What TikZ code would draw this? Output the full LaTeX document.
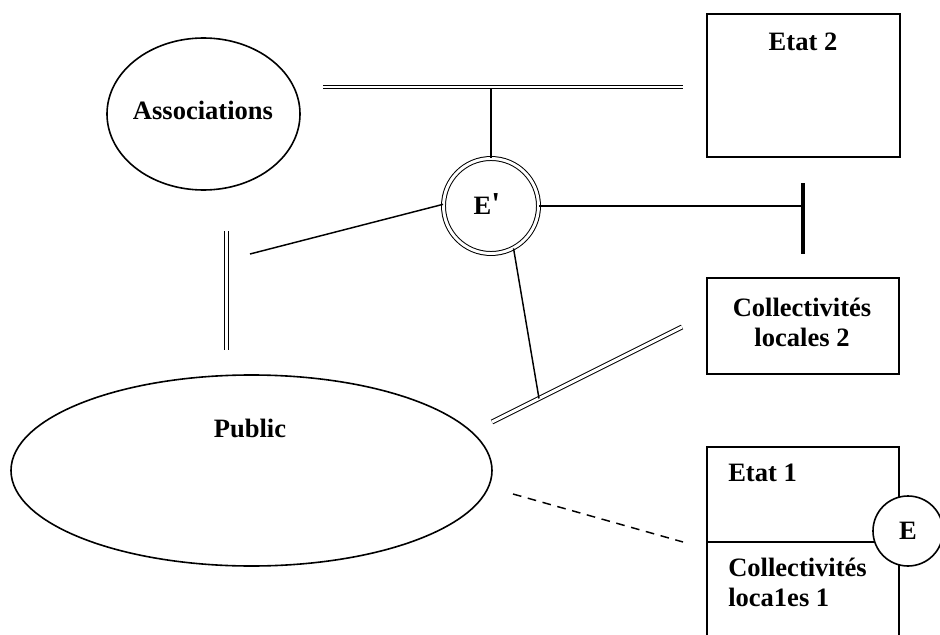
\documentclass[tikz,border=0pt]{standalone}
\usepackage{fontspec}
\setmainfont{Liberation Serif}
\usetikzlibrary{shapes.geometric}
\begin{document}
\begin{tikzpicture}[x=0.75pt,y=-0.75pt,
  txt/.style={font=\fontsize{19.9pt}{22.5pt}\selectfont\bfseries, inner sep=0pt},
  thin/.style={line width=1.1pt},
  dbl/.style={double, line width=0.75pt, double distance=2.2pt},
  boxx/.style={draw, line width=1.2pt, rectangle, inner sep=0pt},
  ell/.style={draw, line width=1.2pt, ellipse, inner sep=0pt}]
\useasboundingbox (0,0) rectangle (940,635);
\clip (0,0) rectangle (940,635);
\fill[white] (0,0) rectangle (940,635);

% Associations
\node[ell, minimum width=144.75pt, minimum height=114pt] (assoc) at (203.5,114) {};
\node[txt] (assoctxt) at (203,110) {Associations};

% Etat 2
\node[boxx, minimum width=144.75pt, minimum height=107.25pt] (etat2) at (803.5,85.5) {};
\node[txt] (etat2txt) at (803,42) {Etat 2};

% E'
\node[draw, circle, dbl, minimum size=71.25pt, inner sep=0pt, fill=white] (eprime) at (491,206) {};
\node[txt] (eprimetxt) at (487,204) {E{\fontsize{24pt}{24pt}\selectfont\textquotesingle}};

% Collectivites locales 2
\node[boxx, minimum width=144pt, minimum height=72pt] (coll2) at (803,326) {};
\node[txt, align=center] (coll2txt) at (802,322) {Collectivités\\locales 2};

% Public
\node[ell, minimum width=360.75pt, minimum height=143.25pt] (public) at (251.5,470.5) {};
\node[txt] (publictxt) at (250,428) {Public};

% Etat 1 / Collectivites locales 1
\node[boxx, minimum width=144pt, minimum height=160pt] (etat1) at (803,553.5) {};
\coordinate (divl) at (707,542);
\coordinate (divr) at (899,542);
\draw[line width=1.2pt] (divl) -- (divr);
\node[txt, anchor=west] (etat1txt) at (728,473) {Etat 1};
\node[txt, anchor=north west, align=left] (coll1txt) at (728,558) {Collectivités\\loca1es 1};
\node[draw, circle, line width=1.2pt, minimum size=52.5pt, inner sep=0pt, fill=white] (e) at (908,531) {};
\node[txt] (etxt) at (908,531) {E};

% connectors
\coordinate (tl) at (323,87);
\coordinate (tr) at (683,87);
\coordinate (tm) at (491,88.5);
\draw[dbl] (tl) -- (tr);
\draw[thin] (tm) -- (eprime.north);

\coordinate (bar) at (803,206);
\coordinate (bart) at (803,183);
\coordinate (barb) at (803,254);
\draw[thin] (eprime.east) -- (bar);
\draw[line width=3.2pt] (bart) -- (barb);

\coordinate (a1) at (250,254);
\draw[thin] (a1) -- (eprime.178);

\coordinate (v1) at (226.5,231);
\coordinate (v2) at (226.5,350);
\draw[dbl] (v1) -- (v2);

\coordinate (d1) at (492,422);
\coordinate (d2) at (682,327);
\coordinate (m) at (539,398.5);
\draw[dbl] (d1) -- (d2);
\draw[thin] (eprime.-62) -- (m);

\coordinate (s1) at (513,494);
\coordinate (s2) at (683,542);
\draw[thin, dash pattern=on 6.5pt off 5pt] (s1) -- (s2);
\end{tikzpicture}
\end{document}
